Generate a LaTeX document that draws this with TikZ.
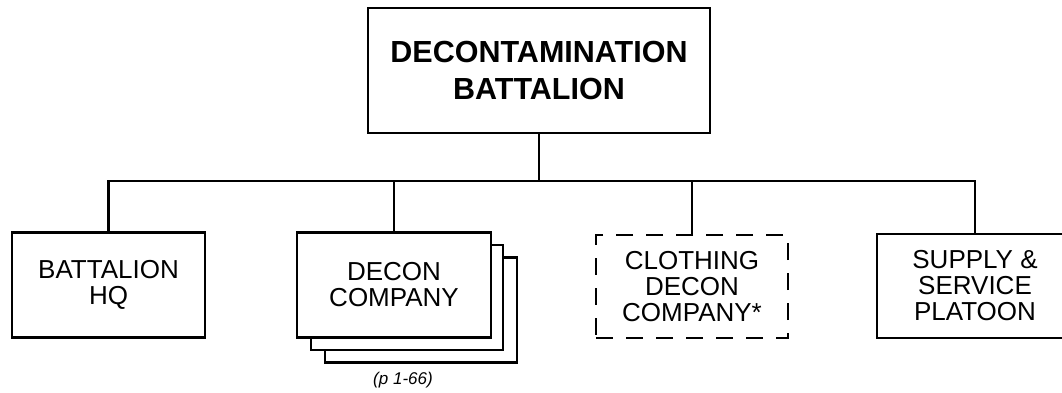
\documentclass[tikz,border=0pt]{standalone}
\usepackage{fontspec}
\setmainfont{Liberation Sans}
\usetikzlibrary{positioning}

\begin{document}
\begin{tikzpicture}[
    x=1pt, y=-1pt,
    unit/.style={draw, line width=2.2pt, fill=white, minimum width=194pt, minimum height=105pt, align=center, inner sep=0pt, font=\fontsize{26}{26}\selectfont},
    hdq/.style={unit, minimum width=342pt, minimum height=125pt, font=\bfseries\fontsize{30.5}{37}\selectfont},
    attached/.style={unit, line width=1.1pt, dash pattern=on 17pt off 13pt, minimum width=192pt},
    link/.style={line width=2.2pt}
]
\clip (0,0) rectangle (1062,392);
\node[hdq] (bn) at (539,70.5) {DECONTAMINATION\\BATTALION};
\coordinate (bus) at (539,181);
\node[unit, minimum width=193pt] (hq) at (108.5,285) {BATTALION\\HQ};
\node[unit, minimum width=192pt] (dec3) at (421,310) {};
\node[unit, minimum width=192pt] (dec2) at (407,297.5) {};
\node[unit] (dec) at (394,285) {DECON\\COMPANY};
\node[font=\itshape\fontsize{17}{18}\selectfont] (ref) at (403,380) {(p 1-66)};
\node[attached, minimum height=103pt] (cloth) at (692,286.5) {CLOTHING\\DECON\\COMPANY*};
\node[unit, minimum width=196pt, minimum height=104pt] (sup) at (975,286) {SUPPLY \&\\SERVICE\\PLATOON};

\draw[link] (bn) -- (bus);
\draw[link] (hq.north) |- (sup.north |- bus) -- (sup.north);
\draw[link] (dec.north) -- (dec.north |- bus);
\draw[link] (cloth.north) -- (cloth.north |- bus);
\end{tikzpicture}
\end{document}
